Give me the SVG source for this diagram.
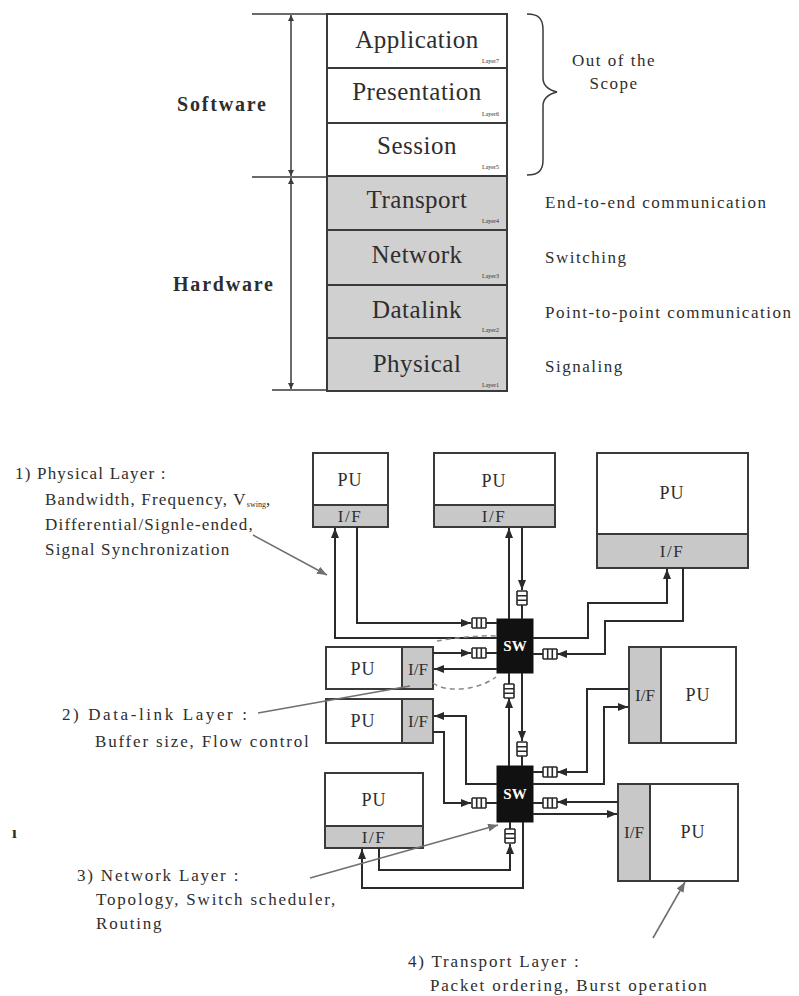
<svg xmlns="http://www.w3.org/2000/svg" xmlns:xlink="http://www.w3.org/1999/xlink" width="799" height="996" viewBox="0 0 799 996">
<style>
text{font-family:"Liberation Serif","DejaVu Serif",serif;fill:#2e2e2e}
.box{fill:#fff;stroke:#3a3a3a;stroke-width:2}
.gbox{fill:#d0d0d0;stroke:#3a3a3a;stroke-width:2}
.if{fill:#c8c8c8;stroke:#3a3a3a;stroke-width:2}
.lay{font-size:25px;letter-spacing:0.5px;text-anchor:middle}
.ln{font-size:6px;text-anchor:end}
.side{font-size:17px;letter-spacing:1.5px}
.note{font-size:17px;letter-spacing:1.2px}
.note2{font-size:17px;letter-spacing:1.8px}
.big{font-size:20px;font-weight:bold;letter-spacing:1.8px}
.pu{font-size:18px;letter-spacing:1px;text-anchor:middle}
.ift{font-size:17px;letter-spacing:1.5px;text-anchor:middle}
.sw{fill:#111;stroke:#111;stroke-width:1}
.swt{font-size:15px;font-weight:bold;fill:#fff;text-anchor:middle}
.c{fill:none;stroke:#2a2a2a;stroke-width:2}
.ca{fill:none;stroke:#2a2a2a;stroke-width:2;marker-end:url(#ah)}
.an{fill:none;stroke:#707070;stroke-width:1.6}
.ana{fill:none;stroke:#707070;stroke-width:1.6;marker-end:url(#ag)}
.dim{fill:none;stroke:#3a3a3a;stroke-width:1.5}
.buf{fill:none;stroke:#2a2a2a;stroke-width:1.6}
</style>
<defs>
<marker id="ah" markerWidth="10" markerHeight="8" refX="10" refY="4" orient="auto" markerUnits="userSpaceOnUse"><path d="M0,0L10,4L0,8z" fill="#2a2a2a"/></marker>
<marker id="ag" markerWidth="10" markerHeight="8" refX="10" refY="4" orient="auto" markerUnits="userSpaceOnUse"><path d="M0,0L10,4L0,8z" fill="#707070"/></marker>
<marker id="dh" markerWidth="6" markerHeight="6" refX="6" refY="3" orient="auto" markerUnits="userSpaceOnUse"><path d="M0,0L6,3L0,6z" fill="#3a3a3a"/></marker>
<path id="buf" class="buf" d="M0,-5H14M0,5H14M0,-5V5M4.7,-5V5M9.3,-5V5M14,-5V5"/>
</defs>

<!-- OSI stack -->
<g id="stack">
<rect class="box" x="327" y="14" width="180" height="54"/>
<rect class="box" x="327" y="68" width="180" height="55"/>
<rect class="box" x="327" y="123" width="180" height="53"/>
<rect class="gbox" x="327" y="176" width="180" height="54"/>
<rect class="gbox" x="327" y="230" width="180" height="55"/>
<rect class="gbox" x="327" y="285" width="180" height="53"/>
<rect class="gbox" x="327" y="338" width="180" height="53"/>
<text class="lay" x="417" y="48">Application</text><text class="ln" x="499" y="63">Layer7</text>
<text class="lay" x="417" y="100">Presentation</text><text class="ln" x="499" y="116">Layer6</text>
<text class="lay" x="417" y="154">Session</text><text class="ln" x="499" y="169">Layer5</text>
<text class="lay" x="417" y="208">Transport</text><text class="ln" x="499" y="223">Layer4</text>
<text class="lay" x="417" y="263">Network</text><text class="ln" x="499" y="278">Layer3</text>
<text class="lay" x="417" y="318">Datalink</text><text class="ln" x="499" y="332">Layer2</text>
<text class="lay" x="417" y="372">Physical</text><text class="ln" x="499" y="387">Layer1</text>
</g>

<g id="dimension">
<path class="dim" d="M252,14H327M252,177H327M272,390H327"/>
<path class="dim" d="M291,95V15" marker-end="url(#dh)"/>
<path class="dim" d="M291,95V176" marker-end="url(#dh)"/>
<path class="dim" d="M291,280V178" marker-end="url(#dh)"/>
<path class="dim" d="M291,280V389" marker-end="url(#dh)"/>
<text class="big" x="177" y="111">Software</text>
<text class="big" x="173" y="291">Hardware</text>
</g>

<g id="brace">
<path class="dim" d="M527,14C538,14 543,18 543,30V78C543,86 549,90 557,92C549,94 543,98 543,106V160C543,171 538,175 527,175"/>
<text class="side" x="572" y="66">Out of the</text>
<text class="side" x="614" y="89" text-anchor="middle">Scope</text>
</g>
<g id="roles">
<text class="side" x="545" y="208">End-to-end communication</text>
<text class="side" x="545" y="263">Switching</text>
<text class="side" x="545" y="318">Point-to-point communication</text>
<text class="side" x="545" y="372">Signaling</text>
</g>

<!-- Network diagram nodes -->
<g id="pu1"><rect class="box" x="313" y="453" width="75" height="74"/><rect class="if" x="313" y="505" width="75" height="22"/><text class="pu" x="350" y="486">PU</text><text class="ift" x="350" y="522">I/F</text></g>
<g id="pu2"><rect class="box" x="434" y="453" width="121" height="74"/><rect class="if" x="434" y="505" width="121" height="22"/><text class="pu" x="494" y="487">PU</text><text class="ift" x="494" y="522">I/F</text></g>
<g id="pu3"><rect class="box" x="597" y="453" width="151" height="115"/><rect class="if" x="597" y="534" width="151" height="34"/><text class="pu" x="672" y="499">PU</text><text class="ift" x="672" y="557">I/F</text></g>
<g id="pu4"><rect class="box" x="326" y="647" width="107" height="42"/><rect class="if" x="402" y="647" width="31" height="42"/><text class="pu" x="363" y="675">PU</text><text class="ift" x="418" y="675" style="letter-spacing:0">I/F</text></g>
<g id="pu5"><rect class="box" x="326" y="699" width="107" height="44"/><rect class="if" x="402" y="699" width="31" height="44"/><text class="pu" x="363" y="727">PU</text><text class="ift" x="418" y="727" style="letter-spacing:0">I/F</text></g>
<g id="pu6"><rect class="box" x="629" y="647" width="107" height="96"/><rect class="if" x="629" y="647" width="32" height="96"/><text class="pu" x="698" y="701">PU</text><text class="ift" x="645" y="701" style="letter-spacing:0">I/F</text></g>
<g id="pu7"><rect class="box" x="325" y="773" width="98" height="75"/><rect class="if" x="325" y="826" width="98" height="22"/><text class="pu" x="374" y="806">PU</text><text class="ift" x="374" y="843">I/F</text></g>
<g id="pu8"><rect class="box" x="618" y="784" width="120" height="97"/><rect class="if" x="618" y="784" width="32" height="97"/><text class="pu" x="693" y="838">PU</text><text class="ift" x="634" y="838" style="letter-spacing:0">I/F</text></g>
<g id="sw1"><rect class="sw" x="497" y="619" width="36" height="54"/><text class="swt" x="515" y="651">SW</text></g>
<g id="sw2"><rect class="sw" x="497" y="766" width="36" height="56"/><text class="swt" x="515" y="799">SW</text></g>

<!-- connectors -->
<g id="connectors">
<path class="ca" d="M497,638H335V528"/>
<path class="ca" d="M357,527V623H471"/>
<path class="ca" d="M509,619V528"/>
<path class="ca" d="M522,527V590"/>
<path class="ca" d="M533,638H588V603H667V569"/>
<path class="ca" d="M683,568V621H605V654H557"/>
<path class="ca" d="M433,653H471"/>
<path class="ca" d="M497,669H434"/>
<path class="ca" d="M497,784H466V716H434"/>
<path class="ca" d="M433,732H444V803H471"/>
<path class="ca" d="M522,673V741"/>
<path class="ca" d="M509,766V698"/>
<path class="ca" d="M629,689H587V772H557"/>
<path class="ca" d="M533,784H604V707H628"/>
<path class="ca" d="M618,802H557"/>
<path class="ca" d="M533,814H617"/>
<path class="ca" d="M379,848V870H510V844"/>
<path class="ca" d="M523,822V888H362V849"/>
<path class="c" d="M486,623H497M486,653H497M486,803H497M533,654H543M533,772H543M533,803H543M522,605V619M522,756V766M509,673V684M510,822V829"/>
<use href="#buf" x="472" y="623"/>
<use href="#buf" x="472" y="653"/>
<use href="#buf" x="472" y="803"/>
<use href="#buf" transform="translate(557,654) rotate(180)"/>
<use href="#buf" transform="translate(557,772) rotate(180)"/>
<use href="#buf" transform="translate(557,803) rotate(180)"/>
<use href="#buf" transform="translate(522,591) rotate(90)"/>
<use href="#buf" transform="translate(522,742) rotate(90)"/>
<use href="#buf" transform="translate(509,698) rotate(-90)"/>
<use href="#buf" transform="translate(510,843) rotate(-90)"/>
<path d="M437,641C455,638 478,635 497,636M433,683C445,692 475,692 496,677" fill="none" stroke="#8a8a8a" stroke-width="1.5" stroke-dasharray="5,4"/>
</g>

<!-- annotations -->
<g id="annotations">
<path class="ana" d="M253,535L327,575"/>
<path class="an" d="M258,713L410,686"/>
<path class="ana" d="M310,878L498,825"/>
<path class="ana" d="M653,938L685,882"/>
<text class="note" x="15" y="479">1) Physical Layer :</text>
<text class="note" x="45" y="505">Bandwidth, Frequency, V<tspan font-size="8" dy="2" letter-spacing="0">swing</tspan><tspan dy="-2">,</tspan></text>
<text class="note" x="45" y="530">Differential/Signle-ended,</text>
<text class="note" x="45" y="555">Signal Synchronization</text>
<text class="note2" x="62" y="720" style="letter-spacing:2.6px">2) Data-link Layer :</text>
<text class="note2" x="95" y="747">Buffer size, Flow control</text>
<text class="note" x="12" y="838" style="font-weight:bold">ı</text>
<text class="note2" x="77" y="881">3) Network Layer :</text>
<text class="note2" x="96" y="905">Topology, Switch scheduler,</text>
<text class="note2" x="96" y="929">Routing</text>
<text class="note2" x="408" y="967">4) Transport Layer :</text>
<text class="note2" x="430" y="991">Packet ordering, Burst operation</text>
</g>
</svg>
